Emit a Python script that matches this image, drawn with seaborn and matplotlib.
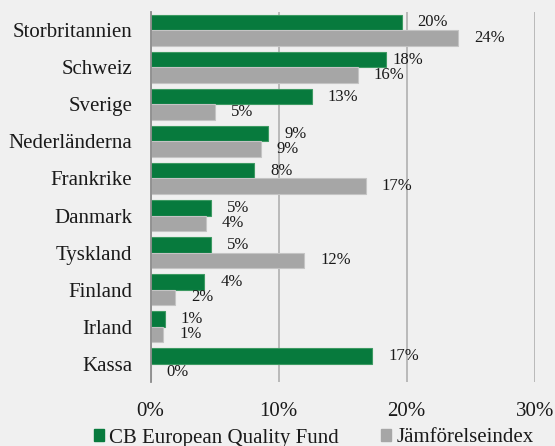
import matplotlib
matplotlib.use("Agg")
import matplotlib.pyplot as plt
import seaborn as sns
import pandas as pd
from matplotlib.patches import Patch
from matplotlib.ticker import FixedLocator

categories = ["Storbritannien", "Schweiz", "Sverige", "Nederländerna", "Frankrike",
              "Danmark", "Tyskland", "Finland", "Irland", "Kassa"]
series_names = ["CB European Quality Fund", "Jämförelseindex"]
fund_values = [19.6, 18.4, 12.6, 9.2, 8.1, 4.7, 4.7, 4.2, 1.1, 17.3]
index_values = [24.0, 16.2, 5.0, 8.6, 16.8, 4.3, 12.0, 1.9, 1.0, 0.0]
x_ticks = [0, 10, 20, 30]
x_tick_labels = ["0%", "10%", "20%", "30%"]

GREEN = "#077a3d"
GREY = "#a6a6a6"
BG = "#f0f0f0"

df = pd.DataFrame({
    "Land": categories * 2,
    "Serie": [series_names[0]] * len(categories) + [series_names[1]] * len(categories),
    "Andel": fund_values + index_values,
})

sns.set_theme(style="white")
plt.rcParams["font.family"] = ["Liberation Serif", "DejaVu Serif"]

fig = plt.figure(figsize=(5.55, 4.46), dpi=100, facecolor=BG)
ax = fig.add_axes([150.5 / 555, 1 - 382.3 / 446, (534.7 - 150.5) / 555, (382.3 - 11.7) / 446])
ax.set_facecolor(BG)

sns.barplot(data=df, y="Land", x="Andel", hue="Serie", order=categories,
            hue_order=series_names, palette=[GREEN, GREY], width=0.84,
            saturation=1, orient="h", ax=ax, legend=False, zorder=3)

edge_cols = ["#3d9a62", "#c4c4c4"]
for cont, ec in zip(ax.containers, edge_cols):
    for bar in cont:
        bar.set_edgecolor(ec)
        bar.set_linewidth(0.8)

ax.set_xlim(0, 30)
ax.set_ylim(len(categories) - 0.5, -0.5)
ax.set_xticks(x_ticks)
ax.set_xticklabels(x_tick_labels)
ax.set_xlabel("")
ax.set_ylabel("")

for s in ["top", "right", "bottom"]:
    ax.spines[s].set_visible(False)
ax.spines["left"].set_color("#8c8c8c")
ax.spines["left"].set_linewidth(1.3)
ax.spines["left"].set_zorder(4)

ax.grid(axis="x", color="#b5b5b5", linewidth=1.3, zorder=0)
ax.grid(axis="y", visible=False)

ax.tick_params(axis="x", length=0, pad=14, labelsize=15, labelcolor="#1a1a1a")
ax.tick_params(axis="y", which="major", length=0, pad=13, labelsize=15, labelcolor="#1a1a1a")
ax.yaxis.set_minor_locator(FixedLocator([i - 0.5 for i in range(len(categories) + 1)]))
ax.tick_params(axis="y", which="minor", length=4, width=1.3, color="#8c8c8c", direction="out")

# Data labels
label_offsets = {(0, 1): 6}
for si, cont in enumerate(ax.containers):
    vals = fund_values if si == 0 else index_values
    for ci, bar in enumerate(cont):
        off = label_offsets.get((si, ci), 16)
        ax.annotate(f"{vals[ci]:.0f}%",
                    xy=(bar.get_width(), bar.get_y() + bar.get_height() / 2),
                    xytext=(off, 0), textcoords="offset pixels",
                    ha="left", va="center", fontsize=12, color="#1a1a1a",
                    annotation_clip=False, zorder=5)

handles = [Patch(facecolor=GREEN, edgecolor=GREEN), Patch(facecolor=GREY, edgecolor=GREY)]
fig.legend(handles, series_names, loc="center", bbox_to_anchor=(313.5 / 555, 1 - 438 / 446),
           ncol=2, frameon=False, fontsize=15, handlelength=0.5, handleheight=0.5,
           handletextpad=0.25, columnspacing=2.0, labelcolor="#1a1a1a", borderaxespad=0)

fig.savefig("out.png", dpi=100, facecolor=BG)
